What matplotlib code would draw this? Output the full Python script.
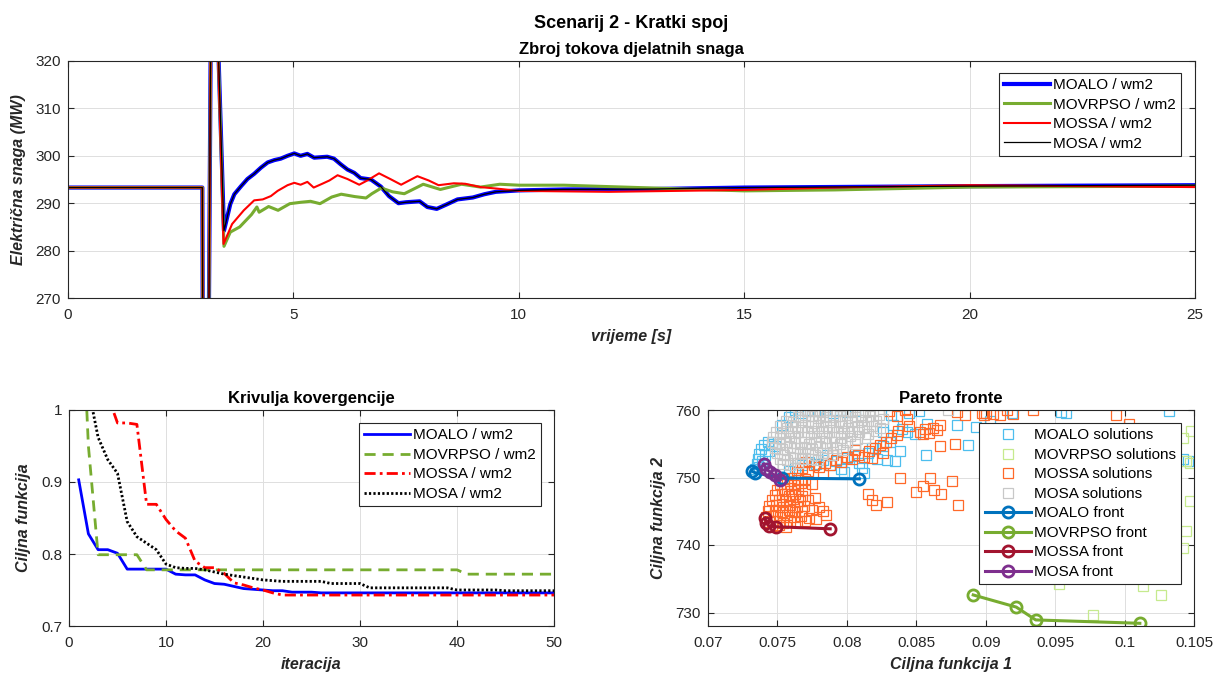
import matplotlib
matplotlib.use("Agg")
import matplotlib.pyplot as plt

plt.rcParams['font.family'] = ['Liberation Sans', 'DejaVu Sans']
plt.rcParams['font.size'] = 11

# ---- top plot: sum of active power flows ----
fault_t = [0.0, 2.98, 3.00, 3.10, 3.18, 3.26]
fault_p = [293.3, 293.3, 230.0, 230.0, 345.0, 345.0]

moalo_t = [3.46, 3.60, 3.69, 3.84, 3.98, 4.13, 4.28, 4.43, 4.58, 4.72,
           4.87, 5.02, 5.16, 5.31, 5.46, 5.75, 5.90, 6.05, 6.20, 6.35,
           6.49, 6.72, 6.94, 7.12, 7.33, 7.50, 7.80, 7.97, 8.18, 8.39,
           8.64, 8.98, 9.24, 9.49, 10.0, 11.0, 13.0, 15.0, 20.0, 25.0]
moalo_p = [284.2, 289.8, 291.9, 293.6, 295.1, 296.2, 297.5, 298.6, 299.1, 299.4,
           300.0, 300.5, 300.0, 300.4, 299.6, 299.8, 299.4, 298.2, 297.1, 296.4,
           295.3, 295.0, 293.5, 291.5, 290.0, 290.2, 290.4, 289.2, 288.8, 289.7,
           290.8, 291.2, 291.9, 292.4, 292.7, 292.9, 293.0, 293.3, 293.6, 293.8]

movrpso_t = [3.46, 3.60, 3.81, 4.07, 4.19, 4.24, 4.45, 4.66, 4.92, 5.17,
             5.38, 5.59, 5.85, 6.06, 6.36, 6.61, 6.74, 6.95, 7.20, 7.46,
             7.88, 8.26, 8.73, 9.15, 9.58, 10.0, 11.0, 12.0, 15.0, 17.0,
             20.0, 25.0]
movrpso_p = [280.9, 283.9, 285.0, 287.6, 289.2, 288.1, 289.3, 288.5, 289.9, 290.2,
             290.4, 289.9, 291.3, 291.9, 291.4, 291.1, 292.0, 293.2, 292.4, 292.0,
             294.0, 292.9, 294.0, 293.4, 294.0, 293.8, 293.8, 293.5, 292.6, 292.8,
             293.4, 293.6]

mossa_t = [3.45, 3.64, 3.90, 4.13, 4.32, 4.50, 4.65, 4.87, 5.02, 5.16,
           5.31, 5.45, 5.64, 5.80, 5.98, 6.20, 6.46, 6.64, 6.90, 7.17,
           7.39, 7.75, 8.00, 8.22, 8.56, 8.81, 9.15, 9.49, 10.0, 12.0,
           15.0, 17.0, 20.0, 25.0]
mossa_p = [281.4, 285.6, 288.5, 290.6, 290.8, 291.5, 292.6, 293.8, 294.3, 293.9,
           294.5, 293.3, 294.1, 294.8, 295.9, 295.1, 293.9, 294.8, 296.3, 295.0,
           293.9, 295.7, 294.8, 293.8, 294.2, 294.1, 293.4, 293.1, 292.6, 292.4,
           292.8, 293.3, 293.8, 293.4]

# MOSA trace lies right on top of MOALO
mosa_t = moalo_t
mosa_p = moalo_p

# ---- convergence curves (iterations 1..50) ----
iters = list(range(1, 51))
conv_moalo = [0.903, 0.828, 0.806, 0.806, 0.801, 0.779, 0.779, 0.779, 0.779, 0.779,
              0.772, 0.771, 0.771, 0.764, 0.759, 0.758, 0.755, 0.752, 0.751, 0.750,
              0.749, 0.749, 0.747, 0.747, 0.747, 0.746, 0.746, 0.746, 0.746, 0.746,
              0.746, 0.746, 0.746, 0.746, 0.746, 0.746, 0.746, 0.746, 0.746, 0.746,
              0.746, 0.746, 0.746, 0.746, 0.746, 0.746, 0.746, 0.746, 0.746, 0.746]
conv_movrpso = [1.25, 0.95, 0.799, 0.799, 0.799, 0.799, 0.799, 0.778, 0.778, 0.778,
                0.778, 0.778, 0.778, 0.778, 0.778, 0.778, 0.778, 0.778, 0.778, 0.778,
                0.778, 0.778, 0.778, 0.778, 0.778, 0.778, 0.778, 0.778, 0.778, 0.778,
                0.778, 0.778, 0.778, 0.778, 0.778, 0.778, 0.778, 0.778, 0.778, 0.778,
                0.772, 0.772, 0.772, 0.772, 0.772, 0.772, 0.772, 0.772, 0.772, 0.772]
conv_mossa = [1.30, 1.20, 1.10, 1.02, 0.982, 0.982, 0.980, 0.869, 0.869, 0.848,
              0.832, 0.822, 0.790, 0.781, 0.781, 0.773, 0.760, 0.757, 0.753, 0.750,
              0.746, 0.743, 0.743, 0.743, 0.743, 0.743, 0.743, 0.743, 0.743, 0.743,
              0.743, 0.743, 0.743, 0.743, 0.743, 0.743, 0.743, 0.743, 0.743, 0.743,
              0.743, 0.743, 0.743, 0.743, 0.743, 0.743, 0.743, 0.743, 0.743, 0.743]
conv_mosa = [1.10, 1.03, 0.962, 0.931, 0.912, 0.845, 0.824, 0.815, 0.806, 0.786,
             0.781, 0.780, 0.780, 0.778, 0.775, 0.772, 0.770, 0.768, 0.766, 0.764,
             0.763, 0.762, 0.762, 0.762, 0.762, 0.762, 0.759, 0.759, 0.759, 0.759,
             0.753, 0.753, 0.753, 0.753, 0.753, 0.753, 0.753, 0.753, 0.753, 0.750,
             0.750, 0.750, 0.750, 0.750, 0.749, 0.749, 0.749, 0.749, 0.749, 0.749]

# ---- Pareto solutions (f1, f2) ----
moalo_sol = [
    (0.0734, 751.2), (0.0735, 752.0), (0.0736, 752.8), (0.0737, 753.5), (0.0738, 754.2),
    (0.0740, 754.8), (0.0743, 755.2), (0.0746, 755.0), (0.0739, 752.4), (0.0741, 753.3),
    (0.0737, 751.6), (0.0744, 754.0), (0.0748, 754.6), (0.0758, 751.0), (0.0763, 751.4),
    (0.0768, 751.8), (0.0773, 752.3), (0.0778, 752.0), (0.0783, 752.6), (0.0788, 751.8),
    (0.0792, 752.5), (0.0796, 751.2), (0.0800, 752.9), (0.0805, 753.2), (0.0809, 752.2),
    (0.0812, 750.6), (0.0815, 753.6), (0.0818, 754.3), (0.0822, 752.8), (0.0826, 754.6),
    (0.0829, 752.6), (0.0831, 755.2), (0.0835, 752.4), (0.0838, 753.9), (0.0811, 751.4),
    (0.0798, 750.8), (0.0786, 753.4), (0.0763, 760.0), (0.0768, 759.6), (0.0772, 760.0),
    (0.0779, 759.8), (0.0784, 760.0), (0.0790, 759.5), (0.0795, 760.0), (0.0800, 759.7),
    (0.0806, 759.9), (0.0758, 758.9), (0.0753, 757.8), (0.0826, 756.8), (0.0833, 757.8),
    (0.0840, 757.2), (0.0843, 756.7), (0.0849, 756.4), (0.0845, 759.6), (0.0852, 759.9),
    (0.0858, 758.0), (0.0857, 753.3), (0.0832, 759.2), (0.0879, 757.8), (0.0887, 754.8),
    (0.0893, 757.5), (0.0903, 758.4), (0.0919, 759.5), (0.0954, 759.7), (0.0958, 759.5),
    (0.1032, 759.8), (0.1042, 752.8), (0.1046, 752.4),
]
movrpso_sol = [
    (0.1048, 756.9), (0.1042, 755.9), (0.1044, 752.5), (0.1047, 752.2), (0.1047, 746.5),
    (0.1044, 742.1), (0.1042, 739.5), (0.0953, 734.2), (0.1013, 734.0), (0.1026, 732.6),
    (0.0977, 729.6),
]
mossa_sol = [
    (0.0755, 749.8), (0.0760, 749.9), (0.0765, 749.6), (0.0770, 749.8),
    (0.0752, 749.0), (0.0757, 749.1), (0.0762, 748.9), (0.0767, 749.2), (0.0775, 749.0),
    (0.0750, 748.2), (0.0755, 748.3), (0.0760, 748.0), (0.0765, 748.3), (0.0770, 748.1),
    (0.0748, 747.4), (0.0753, 747.5), (0.0758, 747.3), (0.0763, 747.6), (0.0768, 747.3), (0.0777, 747.0),
    (0.0746, 746.6), (0.0751, 746.7), (0.0756, 746.5), (0.0761, 746.8), (0.0766, 746.5), (0.0772, 746.6),
    (0.0744, 745.8), (0.0749, 745.9), (0.0754, 745.7), (0.0759, 745.9), (0.0764, 745.6), (0.0769, 745.8),
    (0.0780, 745.6), (0.0743, 745.0), (0.0748, 745.1), (0.0753, 744.9), (0.0758, 745.2), (0.0763, 744.9),
    (0.0768, 745.0), (0.0775, 745.2), (0.0783, 745.1), (0.0742, 744.2), (0.0747, 744.3), (0.0752, 744.1),
    (0.0757, 744.4), (0.0762, 744.1), (0.0767, 744.3), (0.0773, 744.0), (0.0785, 744.4),
    (0.0744, 743.4), (0.0749, 743.5), (0.0754, 743.3), (0.0759, 743.6), (0.0764, 743.4), (0.0770, 743.5),
    (0.0778, 743.8), (0.0746, 742.8), (0.0751, 742.9), (0.0756, 742.7),
    (0.0764, 750.8), (0.0768, 751.4), (0.0772, 751.0), (0.0776, 751.8), (0.0780, 751.5),
    (0.0784, 752.2), (0.0788, 751.9), (0.0792, 752.6), (0.0796, 752.3), (0.0800, 753.0),
    (0.0804, 752.7), (0.0808, 753.4), (0.0812, 753.1), (0.0816, 753.9), (0.0820, 754.3),
    (0.0824, 754.8), (0.0828, 755.3), (0.0832, 755.8), (0.0836, 756.3), (0.0818, 752.9),
    (0.0806, 754.1), (0.0790, 753.3), (0.0826, 753.7), (0.0770, 752.3), (0.0783, 750.6),
    (0.0853, 756.8), (0.0856, 757.2), (0.0859, 756.6), (0.0862, 757.3), (0.0865, 757.0),
    (0.0867, 757.8), (0.0855, 756.4), (0.0830, 759.8), (0.0836, 759.1), (0.0843, 758.7),
    (0.0842, 760.0), (0.0837, 756.9), (0.0845, 757.6), (0.0879, 759.7), (0.0885, 759.3),
    (0.0897, 759.5), (0.0899, 759.3), (0.0900, 759.6), (0.0905, 759.4), (0.0910, 759.3),
    (0.0915, 760.0), (0.0920, 759.4), (0.0934, 760.0), (0.0994, 759.3), (0.1003, 758.0),
    (0.0815, 747.6), (0.0818, 746.7), (0.0821, 746.0), (0.0829, 746.3), (0.0838, 750.0),
    (0.0850, 747.8), (0.0855, 748.7), (0.0860, 749.9), (0.0863, 748.2), (0.0868, 747.5),
    (0.0876, 749.5), (0.0880, 746.0), (0.0867, 754.6), (0.0878, 755.0),
]
mosa_sol = [
    (0.0766, 760.0), (0.0771, 759.8), (0.0776, 760.0), (0.0781, 759.9), (0.0786, 760.0),
    (0.0792, 759.8), (0.0797, 760.0), (0.0802, 759.9), (0.0808, 760.0), (0.0813, 759.7),
    (0.0819, 760.0), (0.0873, 760.0),
    (0.0760, 759.2), (0.0765, 759.0), (0.0770, 759.3), (0.0775, 759.1), (0.0780, 759.2),
    (0.0785, 759.0), (0.0790, 759.3), (0.0795, 759.1), (0.0800, 759.2), (0.0806, 759.0),
    (0.0811, 759.3), (0.0817, 759.1), (0.0823, 759.2),
    (0.0756, 758.4), (0.0761, 758.2), (0.0767, 758.5), (0.0772, 758.3), (0.0777, 758.4),
    (0.0783, 758.2), (0.0788, 758.5), (0.0794, 758.3), (0.0799, 758.4), (0.0804, 758.2),
    (0.0810, 758.5), (0.0815, 758.3), (0.0821, 758.4), (0.0826, 758.6),
    (0.0752, 757.6), (0.0757, 757.4), (0.0763, 757.7), (0.0768, 757.5), (0.0774, 757.6),
    (0.0779, 757.4), (0.0785, 757.7), (0.0790, 757.5), (0.0796, 757.6), (0.0801, 757.4),
    (0.0807, 757.7), (0.0812, 757.5), (0.0818, 757.6), (0.0824, 757.3),
    (0.0749, 756.8), (0.0754, 756.6), (0.0760, 756.9), (0.0765, 756.7), (0.0771, 756.8),
    (0.0776, 756.6), (0.0782, 756.9), (0.0787, 756.7), (0.0793, 756.8), (0.0798, 756.6),
    (0.0804, 756.9), (0.0809, 756.7), (0.0815, 756.5), (0.0821, 756.9),
    (0.0747, 756.0), (0.0752, 755.8), (0.0758, 756.1), (0.0763, 755.9), (0.0769, 756.0),
    (0.0774, 755.8), (0.0780, 756.1), (0.0785, 755.9), (0.0791, 756.0), (0.0796, 755.8),
    (0.0802, 756.1), (0.0807, 755.7), (0.0813, 755.9),
    (0.0746, 755.2), (0.0751, 755.0), (0.0756, 755.3), (0.0762, 755.1), (0.0767, 755.2),
    (0.0773, 755.0), (0.0778, 755.3), (0.0784, 755.1), (0.0789, 755.2), (0.0795, 755.0),
    (0.0800, 755.3), (0.0806, 754.9),
    (0.0748, 754.4), (0.0753, 754.2), (0.0759, 754.5), (0.0764, 754.3), (0.0770, 754.4),
    (0.0775, 754.2), (0.0781, 754.5), (0.0786, 754.3), (0.0792, 754.4), (0.0797, 754.1),
    (0.0750, 753.6), (0.0755, 753.4), (0.0761, 753.7), (0.0766, 753.5), (0.0772, 753.6),
    (0.0777, 753.4), (0.0783, 753.7), (0.0789, 753.3),
    (0.0752, 752.8), (0.0757, 752.6), (0.0763, 752.9), (0.0768, 752.7), (0.0774, 752.8),
    (0.0779, 752.6), (0.0754, 752.0), (0.0759, 751.9), (0.0765, 752.1),
]

# ---- Pareto fronts ----
moalo_front = [(0.0732, 750.9), (0.0734, 750.7), (0.0753, 749.9), (0.0809, 749.8)]
movrpso_front = [(0.0891, 732.6), (0.0922, 730.8), (0.0936, 728.9), (0.1011, 728.4)]
mossa_front = [(0.0741, 744.0), (0.0742, 743.3), (0.0744, 742.8), (0.0749, 742.7), (0.0788, 742.4)]
mosa_front = [(0.0740, 752.0), (0.0742, 751.2), (0.0745, 750.8), (0.0748, 750.3), (0.0752, 749.6)]

DARK = '#262626'
GRID = '#dfdfdf'


def style(ax):
    ax.grid(True, color=GRID, linewidth=0.7)
    ax.set_axisbelow(True)
    for s in ax.spines.values():
        s.set_color(DARK)
        s.set_linewidth(0.8)
    ax.tick_params(direction='in', length=4, colors=DARK, labelsize=11,
                   top=True, right=True, width=0.8)
    ax.tick_params(axis='x', pad=7)
    ax.tick_params(axis='y', pad=5)


def lab(ax, xl, yl):
    ax.set_xlabel(xl, fontweight='bold', fontstyle='italic', fontsize=11.5, color=DARK, labelpad=5)
    ax.set_ylabel(yl, fontweight='bold', fontstyle='italic', fontsize=11.5, color=DARK, labelpad=7)


def leg_box(ax, anchor, **kw):
    lg = ax.legend(loc='upper right', bbox_to_anchor=anchor, fontsize=11,
                   handlelength=3.0, handletextpad=0.2, labelspacing=0.36, borderpad=0.35,
                   fancybox=False, framealpha=1, edgecolor=DARK, borderaxespad=0, **kw)
    lg.get_frame().set_linewidth(0.8)
    return lg


fig = plt.figure(figsize=(12.17, 6.8), dpi=100)
W, H = 1217, 680


def axes_px(l, t, r, b):
    return fig.add_axes([l / W, 1 - b / H, (r - l) / W, (b - t) / H])


# top panel
ax1 = axes_px(68, 61, 1195, 298)
style(ax1)
ax1.plot(fault_t + moalo_t, fault_p + moalo_p, color='#0000ff', lw=3.0, label='MOALO / wm2')
ax1.plot(fault_t + movrpso_t, fault_p + movrpso_p, color='#77ac30', lw=2.2, label='MOVRPSO / wm2')
ax1.plot(fault_t + mossa_t, fault_p + mossa_p, color='#ff0000', lw=1.5, label='MOSSA / wm2')
ax1.plot(fault_t + mosa_t, fault_p + mosa_p, color='#000000', lw=0.9, label='MOSA / wm2')
ax1.set_xlim(0, 25)
ax1.set_ylim(270, 320)
ax1.set_xticks([0, 5, 10, 15, 20, 25])
ax1.set_yticks([270, 280, 290, 300, 310, 320])
ax1.set_title('Zbroj tokova djelatnih snaga', fontweight='bold', fontsize=12, pad=5)
lab(ax1, 'vrijeme [s]', 'Električna snaga (MW)')
leg_box(ax1, ((1181 - 68) / 1127, (298 - 73) / 237))
fig.text(631 / W, 1 - 24 / H, 'Scenarij 2 - Kratki spoj', ha='center', va='center',
         fontweight='bold', fontsize=13)

# convergence panel
ax2 = axes_px(69, 410, 554, 626)
style(ax2)
ax2.plot(iters, conv_moalo, color='#0000ff', lw=2.0, label='MOALO / wm2')
ax2.plot(iters, conv_movrpso, color='#77ac30', lw=2.0, ls=(0, (4, 2.5)), label='MOVRPSO / wm2')
ax2.plot(iters, conv_mossa, color='#ff0000', lw=2.0, ls=(0, (4, 1.5, 1, 1.5)), label='MOSSA / wm2')
ax2.plot(iters, conv_mosa, color='#000000', lw=2.0, ls=(0, (0.8, 0.8)), label='MOSA / wm2')
ax2.set_xlim(0, 50)
ax2.set_ylim(0.7, 1.0)
ax2.set_xticks([0, 10, 20, 30, 40, 50])
ax2.set_yticks([0.7, 0.8, 0.9, 1.0])
ax2.set_yticklabels(['0.7', '0.8', '0.9', '1'])
ax2.set_title('Krivulja kovergencije', fontweight='bold', fontsize=12, pad=5)
lab(ax2, 'iteracija', 'Ciljna funkcija')
leg_box(ax2, ((541 - 69) / 485, (626 - 423) / 216))

# Pareto panel
ax3 = axes_px(708, 410, 1194, 626)
style(ax3)
sol_sets = [(moalo_sol, '#4dbeee', 'MOALO solutions'),
            (movrpso_sol, '#c6ea8e', 'MOVRPSO solutions'),
            (mossa_sol, '#ff6929', 'MOSSA solutions'),
            (mosa_sol, '#c8c8c8', 'MOSA solutions')]
for pts, c, name in sol_sets:
    xs = [p[0] for p in pts]
    ys = [p[1] for p in pts]
    ax3.plot(xs, ys, ls='none', marker='s', ms=7.2, mfc='none', mec=c, mew=0.9, label=name)
front_sets = [(moalo_front, '#0072bd', 'MOALO front'),
              (movrpso_front, '#77ac30', 'MOVRPSO front'),
              (mossa_front, '#a2142f', 'MOSSA front'),
              (mosa_front, '#7e2f8e', 'MOSA front')]
for pts, c, name in front_sets:
    xs = [p[0] for p in pts]
    ys = [p[1] for p in pts]
    ax3.plot(xs, ys, color=c, lw=2.2, marker='o', ms=8, mfc='none', mec=c, mew=2.0, label=name)
ax3.set_xlim(0.07, 0.105)
ax3.set_ylim(728, 760)
ax3.set_xticks([0.07, 0.075, 0.08, 0.085, 0.09, 0.095, 0.1, 0.105])
ax3.set_xticklabels(['0.07', '0.075', '0.08', '0.085', '0.09', '0.095', '0.1', '0.105'])
ax3.set_yticks([730, 740, 750, 760])
ax3.set_title('Pareto fronte', fontweight='bold', fontsize=12, pad=5)
lab(ax3, 'Ciljna funkcija 1', 'Ciljna funkcija 2')
leg_box(ax3, ((1181 - 708) / 486, (626 - 423) / 216), numpoints=1)

fig.savefig('out.png', dpi=100)
